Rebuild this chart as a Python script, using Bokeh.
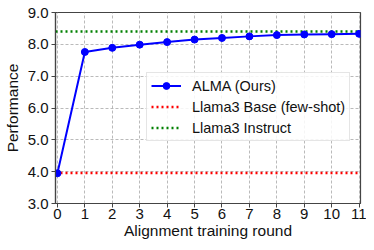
from bokeh.plotting import figure
from bokeh.models import Range1d, FixedTicker, Legend, LegendItem, CustomJSTickFormatter
from bokeh.embed import file_html
from bokeh.resources import INLINE

rounds = [0, 1, 2, 3, 4, 5, 6, 7, 8, 9, 10, 11]
alma = [3.95, 7.76, 7.89, 7.99, 8.07, 8.15, 8.20, 8.25, 8.29, 8.31, 8.32, 8.33]
base_score = 3.96
instruct_score = 8.40
x_ticks = list(range(0, 12))
y_ticks = [3.0, 4.0, 5.0, 6.0, 7.0, 8.0, 9.0]

FONT = "Liberation Sans"

p = figure(width=366, height=242, output_backend="svg", toolbar_location=None,
           x_range=Range1d(-0.07, 11.05), y_range=Range1d(3.0, 9.0),
           min_border_left=54, min_border_right=6, min_border_top=12, min_border_bottom=39)
p.background_fill_color = "white"
p.border_fill_color = "white"
p.outline_line_color = "#444444"
p.outline_line_width = 1.2

xs_line = [-0.07, 11.05]
r_base = p.line(xs_line, [base_score, base_score], line_color="red", line_width=2.5, line_dash="2 3")
r_inst = p.line(xs_line, [instruct_score, instruct_score], line_color="green", line_width=2.5, line_dash="2 3")
r_alma = p.line(rounds, alma, line_color="blue", line_width=2)
r_alma_pts = p.scatter(rounds, alma, size=7, fill_color="blue", line_color="blue")

for ax in (p.xaxis[0], p.yaxis[0]):
    ax.axis_line_color = "#444444"
    ax.axis_line_width = 1.2
    ax.major_tick_line_color = "#444444"
    ax.major_tick_out = 4
    ax.major_tick_in = 0
    ax.minor_tick_line_color = None
    ax.major_label_text_font = FONT
    ax.major_label_text_font_size = "15px"
    ax.major_label_text_color = "#111111"
    ax.axis_label_text_font = FONT
    ax.axis_label_text_font_size = "15.5px"
    ax.axis_label_text_font_style = "normal"
    ax.axis_label_text_color = "#111111"

p.xaxis.ticker = FixedTicker(ticks=x_ticks)
p.yaxis.ticker = FixedTicker(ticks=y_ticks)
p.yaxis.formatter = CustomJSTickFormatter(code="return tick.toFixed(1);")
p.xaxis.axis_label = "Alignment training round"
p.yaxis.axis_label = "Performance"
p.xaxis.major_label_standoff = 1
p.yaxis.major_label_standoff = 3
p.xaxis.axis_label_standoff = 0
p.yaxis.axis_label_standoff = 4

p.xgrid.grid_line_color = "#a8a8a8"
p.ygrid.grid_line_color = "#a8a8a8"
p.xgrid.grid_line_dash = "3 2"
p.ygrid.grid_line_dash = "3 2"
p.xgrid.grid_line_width = 0.8
p.ygrid.grid_line_width = 0.8

legend = Legend(items=[
    LegendItem(label="ALMA (Ours)", renderers=[r_alma, r_alma_pts]),
    LegendItem(label="Llama3 Base (few-shot)", renderers=[r_base]),
    LegendItem(label="Llama3 Instruct", renderers=[r_inst]),
], location=(91, 62))
legend.label_text_font = FONT
legend.label_text_font_size = "14.5px"
legend.label_text_color = "#111111"
legend.glyph_width = 30
legend.glyph_height = 17
legend.label_height = 17
legend.spacing = 4
legend.padding = 4
legend.margin = 0
legend.label_standoff = 11
legend.border_line_color = "#cccccc"
legend.background_fill_alpha = 0.85
p.add_layout(legend, "center")

open("out.html", "w").write(file_html(p, INLINE))
